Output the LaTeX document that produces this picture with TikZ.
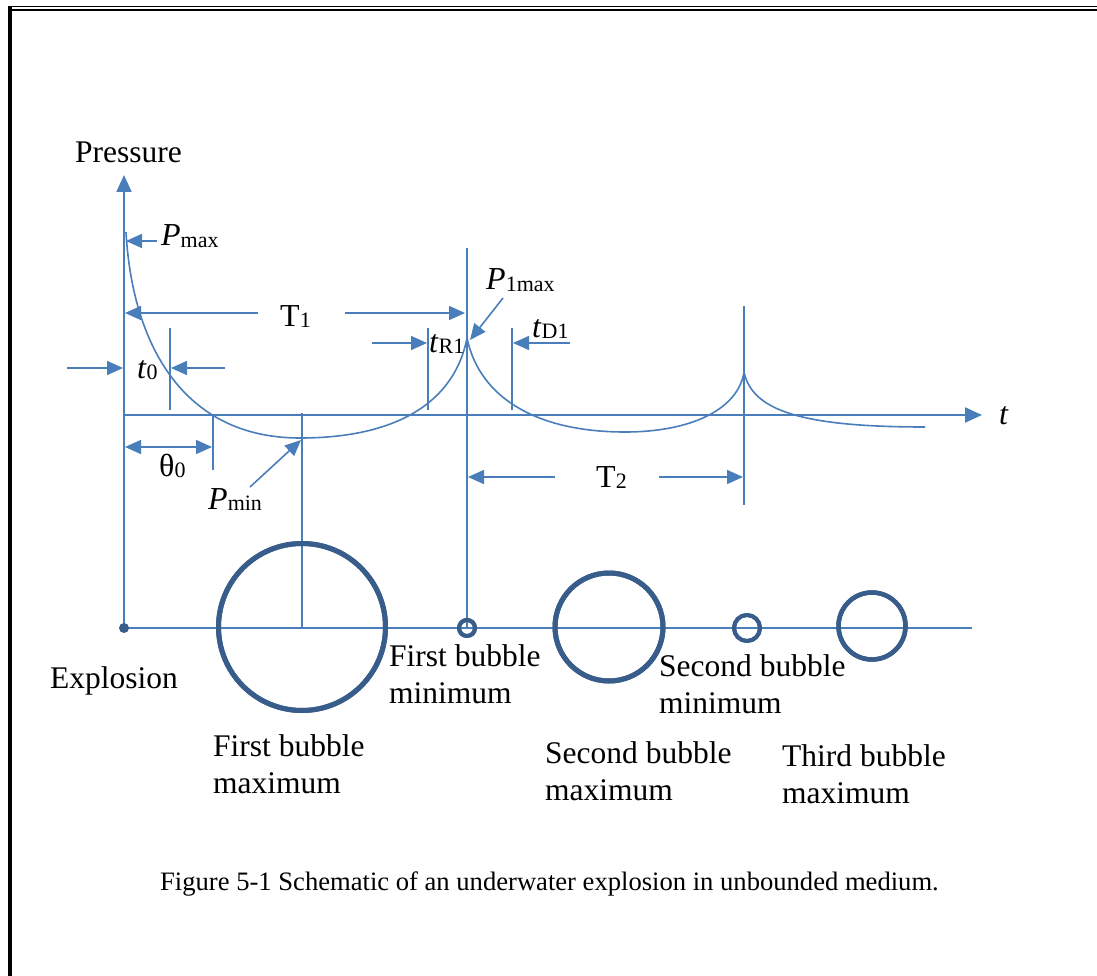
\documentclass[tikz,border=0pt]{standalone}
\usepackage{fontspec}
\setmainfont{Liberation Serif}
\usetikzlibrary{arrows.meta}
\definecolor{lblue}{HTML}{4A7EBB}
\definecolor{dblue}{HTML}{385D8A}
\newcommand\mainsz{\fontsize{32}{36}\selectfont}
\newcommand\txtsz{\fontsize{31.5}{37.5}\selectfont}
\newcommand\subsz{\fontsize{22}{22}\selectfont}
\newcommand\sym[2]{#1{\subsz\raisebox{-1.5pt}{#2}}}
\begin{document}
\begin{tikzpicture}[x=1pt,y=-1pt,line join=round,
  ln/.style={draw=lblue, line width=1.5pt},
  axis/.style={draw=lblue, line width=2.2pt, -{Triangle[length=17pt,width=15pt]}},
  arr/.style={draw=lblue, line width=1.6pt, -{Triangle[length=16pt,width=14pt]}},
  dblarr/.style={draw=lblue, line width=1.6pt, {Triangle[length=16pt,width=14pt]}-{Triangle[length=16pt,width=14pt]}},
  curve/.style={draw=lblue, line width=1.6pt},
  lbl/.style={inner sep=0pt, font=\mainsz, anchor=base west},
  tlbl/.style={inner sep=0pt, font=\txtsz, anchor=base west},
  mlbl/.style={inner sep=0pt, font=\txtsz, anchor=north west, align=left},
  bubble/.style={circle, draw=dblue, inner sep=0pt, outer sep=0pt}
]
\useasboundingbox (0,0) rectangle (1097,976);
% frame
\draw[line width=1.3pt] (8,6.5) -- (1097,6.5);
\draw[line width=2.2pt] (12,10) -- (1097,10);
\draw[line width=4pt] (10,6) -- (10,976);

% coordinates
\coordinate (O) at (124,628);
\coordinate (ytip) at (124,175);
\coordinate (tstart) at (124,415);
\coordinate (ttip) at (982,415);
\coordinate (bend) at (972,628);

% vertical guide lines
\coordinate (v0a) at (170,328); \coordinate (v0b) at (170,410);
\coordinate (vth) at (213,415); \coordinate (vthb) at (213,470);
\coordinate (vmin) at (302,413);
\coordinate (vr1a) at (428,328); \coordinate (vr1b) at (428,410);
\coordinate (v1top) at (467,248);
\coordinate (vd1a) at (512,328); \coordinate (vd1b) at (512,410);
\coordinate (v2top) at (744,306); \coordinate (v2bot) at (744,505);

% bubbles
\node[bubble, line width=5pt, minimum size=167pt] (b1) at (302,627) {};
\node[bubble, line width=4pt, minimum size=16pt] (b2) at (467,628) {};
\node[bubble, line width=5pt, minimum size=108pt] (b3) at (609,627) {};
\node[bubble, line width=4pt, minimum size=26pt] (b4) at (747,628) {};
\node[bubble, line width=4.5pt, minimum size=67pt] (b5) at (872,626) {};

\draw[ln] (O) -- (bend);
\draw[axis] (O) -- (ytip);
\draw[axis] (tstart) -- (ttip);

\draw[ln] (v0a) -- (v0b);
\draw[ln] (vth) -- (vthb);
\draw[ln] (vmin) -- (b1.center);
\draw[ln] (vr1a) -- (vr1b);
\draw[ln] (v1top) -- (b2.center);
\draw[ln] (vd1a) -- (vd1b);
\draw[ln] (v2top) -- (v2bot);

% redraw bubbles on top
\draw[dblue, line width=5pt] (b1.center) circle[radius=83.5pt];
\draw[dblue, line width=4pt] (b2.center) circle[radius=8pt];
\draw[dblue, line width=5pt] (b3.center) circle[radius=54pt];
\draw[dblue, line width=4pt] (b4.center) circle[radius=13pt];
\draw[dblue, line width=4.5pt] (b5.center) circle[radius=33.5pt];

\node[circle, fill=dblue, minimum size=10pt, inner sep=0pt] (expl) at (O) {};

% pressure curve
\draw[curve] (126,232) .. controls (132,340) and (180,438) .. (300,438)
  .. controls (400,438) and (455,400) .. (467,338)
  .. controls (480,400) and (540,432) .. (625,432)
  .. controls (690,432) and (738,410) .. (744,372)
  .. controls (752,410) and (800,427) .. (925,427);

% arrows
\coordinate (pmaxA) at (157,241); \coordinate (pmaxB) at (126,241);
\draw[arr] (pmaxA) -- (pmaxB);
\coordinate (T1a) at (258,313); \coordinate (T1b) at (125,313);
\coordinate (T1c) at (345,313); \coordinate (T1d) at (465,313);
\draw[arr] (T1a) -- (T1b);
\draw[arr] (T1c) -- (T1d);
\coordinate (t0a) at (67,368); \coordinate (t0b) at (123,368);
\coordinate (t0c) at (225,368); \coordinate (t0d) at (171,368);
\draw[arr] (t0a) -- (t0b);
\draw[arr] (t0c) -- (t0d);
\coordinate (th0a) at (125,447); \coordinate (th0b) at (212,447);
\draw[dblarr] (th0a) -- (th0b);
\coordinate (pminA) at (250,487); \coordinate (pminB) at (301,440);
\draw[arr] (pminA) -- (pminB);
\coordinate (r1a) at (372,343); \coordinate (r1b) at (427,343);
\draw[arr] (r1a) -- (r1b);
\coordinate (d1a) at (570,343); \coordinate (d1b) at (513,343);
\draw[arr] (d1a) -- (d1b);
\coordinate (p1a) at (503,298); \coordinate (p1b) at (470,340);
\draw[arr] (p1a) -- (p1b);
\coordinate (T2a) at (555,477); \coordinate (T2b) at (468,477);
\coordinate (T2c) at (659,477); \coordinate (T2d) at (743,477);
\draw[arr] (T2a) -- (T2b);
\draw[arr] (T2c) -- (T2d);

% labels
\node[tlbl] (press) at (75,163) {Pressure};
\node[lbl] (tl) at (999,424) {\textit{t}};
\node[lbl] (pmaxl) at (161,246) {\sym{\textit{P}}{max}};
\node[lbl] (t1l) at (280,326) {\sym{T}{1}};
\node[lbl] (t0l) at (137,378) {\sym{\textit{t}}{0}};
\node[lbl] (th0l) at (159,476) {\sym{θ}{0}};
\node[lbl] (pminl) at (208,509) {\sym{\textit{P}}{min}};
\node[lbl] (tr1l) at (429,352) {\sym{\textit{t}}{R1}};
\node[lbl] (td1l) at (532,337) {\sym{\textit{t}}{D1}};
\node[lbl] (p1maxl) at (486,290) {\sym{\textit{P}}{1max}};
\node[lbl] (t2l) at (596,487) {\sym{T}{2}};

\node[tlbl] (explosion) at (50,688) {Explosion};
\node[mlbl] (fbmax) at (213,734) {First bubble\\maximum};
\node[mlbl] (fbmin) at (389,644) {First bubble\\minimum};
\node[mlbl] (sbmin) at (659,654) {Second bubble\\minimum};
\node[mlbl] (sbmax) at (545,741) {Second bubble\\maximum};
\node[mlbl] (tbmax) at (782,744) {Third bubble\\maximum};

\node[inner sep=0pt, anchor=base west, font=\fontsize{26.6}{30}\selectfont] (caption) at (160,890) {Figure 5-1 Schematic of an underwater explosion in unbounded medium.};
\end{tikzpicture}
\end{document}
